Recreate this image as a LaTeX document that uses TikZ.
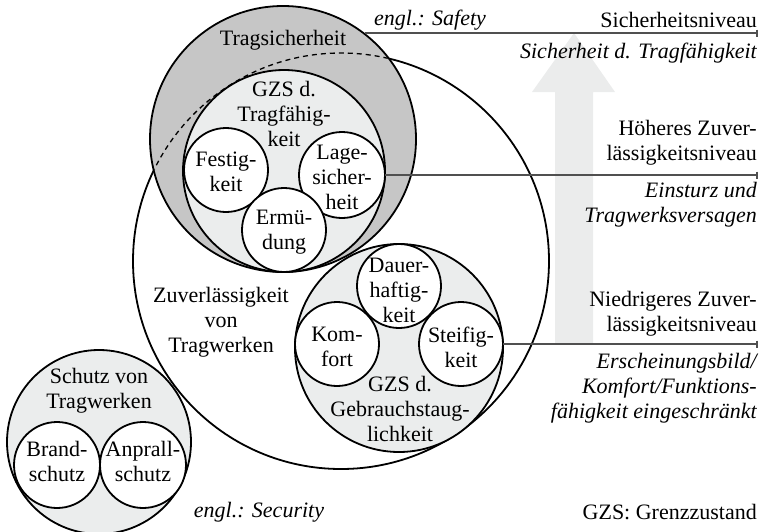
\documentclass[tikz,border=0pt]{standalone}
\usepackage{fontspec}
\setmainfont{Liberation Serif}
\usetikzlibrary{arrows.meta}
\definecolor{ringgray}{HTML}{C6C6C6}
\definecolor{lightfill}{HTML}{EBEDED}
\definecolor{arrowgray}{HTML}{EBECEC}
\definecolor{linegray}{HTML}{505050}
\begin{document}
\begin{tikzpicture}[x=1pt,y=-1pt,
  circ/.style={circle, draw=black, line width=1.8pt, inner sep=0pt, outer sep=0pt},
  lbl/.style={inner sep=0pt, align=center, font=\fontsize{22}{25}\selectfont},
  ilbl/.style={inner sep=0pt, align=center, font=\fontsize{22}{25}\selectfont\itshape},
  rlbl/.style={inner sep=0pt, align=right, anchor=east, font=\fontsize{22}{25}\selectfont},
  rilbl/.style={inner sep=0pt, align=right, anchor=east, font=\fontsize{22}{25}\selectfont\itshape},
  conn/.style={draw=linegray, line width=1.3pt, -{Bar[width=7pt,line width=1.6pt]}}
]
\useasboundingbox (0,0) rectangle (763,531);
% big background arrow
\path[fill=arrowgray] (555,344) -- (555,92) -- (532,92) -- (574,33) -- (615,92) -- (593,92) -- (593,344) -- cycle;
% circles
\node[circ, fill=lightfill, minimum size=184pt] (schutz) at (99,442) {};
\node[circ, minimum size=416pt] (zuv) at (341,261) {};
\node[circ, fill=ringgray, minimum size=266pt] (trag) at (283,139) {};
\begin{scope}
  \clip (trag.center) circle[radius=132pt];
  \draw[line width=1.3pt, dash pattern=on 5pt off 4pt] (zuv.center) circle[radius=208pt];
\end{scope}
\node[circ, fill=lightfill, minimum size=202pt] (gzst) at (284,171) {};
\node[circ, fill=white, minimum size=84pt] (fest) at (226,170) {};
\node[circ, fill=white, minimum size=86pt] (lage) at (342,175) {};
\node[circ, fill=white, minimum size=84pt] (ermue) at (284,230) {};
\node[circ, fill=lightfill, minimum size=208pt] (gzsg) at (399,348) {};
\node[circ, fill=white, minimum size=84pt] (kom) at (337,344) {};
\node[circ, fill=white, minimum size=84pt] (steif) at (461,344) {};
\node[circ, fill=white, minimum size=84pt] (dauer) at (399,286) {};
\node[circ, fill=white, minimum size=86pt] (brand) at (57,465) {};
\node[circ, fill=white, minimum size=86pt] (anprall) at (143,465) {};
% labels in circles
\node[lbl] (tragt) at (283,40) {Tragsicherheit};
\node[lbl] (gzstt) at (284,114) {GZS d.\\Tragfähig-\\keit};
\node[lbl] (festt) at (226,172) {Festig-\\keit};
\node[lbl] (laget) at (342,177) {Lage-\\sicher-\\heit};
\node[lbl] (ermuet) at (284,232) {Ermü-\\dung};
\node[lbl] (zuvt) at (221,322) {Zuverlässigkeit\\von\\Tragwerken};
\node[lbl] (gzsgt) at (400,409) {GZS d.\\Gebrauchstaug-\\lichkeit};
\node[lbl] (komt) at (337,347) {Kom-\\fort};
\node[lbl] (steift) at (461,347) {Steifig-\\keit};
\node[lbl] (dauert) at (399,290) {Dauer-\\haftig-\\keit};
\node[lbl] (schutzt) at (99,391) {Schutz von\\Tragwerken};
\node[lbl] (brandt) at (57,461) {Brand-\\schutz};
\node[lbl] (anprallt) at (143,461) {Anprall-\\schutz};
\node[ilbl] (secur) at (259,512) {engl.: Security};
\node[ilbl, anchor=west] (safety) at (374,20) {engl.: Safety};
% right side labels
\node[rlbl] (sniv) at (757,20) {Sicherheitsniveau};
\node[rilbl] (sdt) at (757,53) {Sicherheit d. Tragfähigkeit};
\node[rlbl] (hzn) at (757,143) {Höheres Zuver-\\lässigkeitsniveau};
\node[rilbl] (einst) at (757,205) {Einsturz und\\Tragwerksversagen};
\node[rlbl] (nzn) at (757,314) {Niedrigeres Zuver-\\lässigkeitsniveau};
\node[rilbl] (ersch) at (757,388) {Erscheinungsbild/\\Komfort/Funktions-\\fähigkeit eingeschränkt};
\node[rlbl] (gzs) at (757,512) {GZS: Grenzzustand};
% connectors
\coordinate (e1) at (758,33);
\coordinate (e2) at (758,175);
\coordinate (e3) at (758,344);
\draw[conn] (e1 -| trag.52.8) -- (e1);
\draw[conn] (lage.east) -- (e2);
\draw[conn] (steif.east) -- (e3);
\end{tikzpicture}
\end{document}
